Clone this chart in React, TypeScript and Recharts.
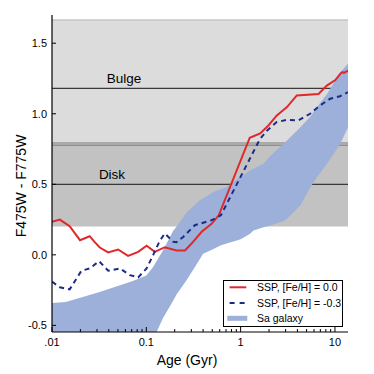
import {
  ComposedChart,
  Line,
  Area,
  XAxis,
  YAxis,
  ReferenceArea,
  ReferenceLine,
  Legend,
} from 'recharts';

const FONT = '"Liberation Sans", Arial, sans-serif';
const RED = '#e0282b';
const NAVY = '#1d2b88';
const BAND = '#9cb0da';

const NAME_SOLAR = 'SSP, [Fe/H] = 0.0';
const NAME_POOR = 'SSP, [Fe/H] = -0.3';
const NAME_SA = 'Sa galaxy';

// SSP [Fe/H] = 0.0
const solarAge = [0.01, 0.0121, 0.0154, 0.0198, 0.0251, 0.0284, 0.0321, 0.0394, 0.0502, 0.064, 0.082, 0.1007, 0.123, 0.157, 0.209, 0.257, 0.302, 0.386, 0.492, 0.586, 1.25, 1.61, 1.97, 2.42, 3.1, 3.94, 6.7, 8.2, 10.1, 11.4, 12.0, 12.5, 13.75];
const solarColor = [0.234, 0.25, 0.203, 0.104, 0.132, 0.09, 0.052, 0.017, 0.038, -0.007, 0.021, 0.064, 0.021, 0.054, 0.031, 0.031, 0.08, 0.163, 0.22, 0.28, 0.83, 0.86, 0.917, 0.988, 1.047, 1.13, 1.14, 1.2, 1.239, 1.283, 1.295, 1.29, 1.305];

// SSP [Fe/H] = -0.3
const poorAge = [0.01, 0.0121, 0.0154, 0.0205, 0.0251, 0.0316, 0.0394, 0.0525, 0.067, 0.082, 0.1007, 0.118, 0.139, 0.157, 0.193, 0.209, 0.246, 0.327, 0.49, 0.617, 1.6, 1.9, 2.4, 3.07, 4.08, 5.45, 6.95, 8.87, 11.3, 13.75];
const poorColor = [-0.19, -0.23, -0.245, -0.113, -0.096, -0.045, -0.113, -0.096, -0.144, -0.16, -0.096, -0.002, 0.1, 0.151, 0.092, 0.09, 0.127, 0.21, 0.245, 0.28, 0.82, 0.88, 0.94, 0.957, 0.953, 1.0, 1.059, 1.106, 1.124, 1.153];

// Sa galaxy envelope
const bandAge = [0.01, 0.014, 0.032, 0.072, 0.1, 0.118, 0.15, 0.193, 0.21, 0.267, 0.37, 0.4, 0.51, 0.61, 0.71, 0.91, 1.0, 1.26, 1.37, 1.75, 2.06, 2.86, 3.1, 4.3, 5.5, 6.45, 8.25, 8.9, 11.4, 13.75];
const bandLow = [-0.75, -0.75, -0.75, -0.72, -0.68, -0.6, -0.45, -0.323, -0.28, -0.181, -0.03, 0.007, 0.04, 0.066, 0.08, 0.102, 0.11, 0.15, 0.172, 0.195, 0.208, 0.24, 0.255, 0.349, 0.48, 0.55, 0.646, 0.68, 0.788, 0.905];
const bandHigh = [-0.342, -0.335, -0.264, -0.186, -0.146, -0.087, 0.031, 0.17, 0.2, 0.3, 0.387, 0.4, 0.446, 0.465, 0.481, 0.535, 0.552, 0.6, 0.61, 0.646, 0.7, 0.788, 0.81, 0.905, 0.98, 1.047, 1.14, 1.177, 1.294, 1.354];

const xTicks = [0.01, 0.02, 0.03, 0.04, 0.05, 0.06, 0.07, 0.08, 0.09, 0.1, 0.2, 0.3, 0.4, 0.5, 0.6, 0.7, 0.8, 0.9, 1, 2, 3, 4, 5, 6, 7, 8, 9, 10];
const xMajor = [0.01, 0.1, 1, 10];
const xMajorLabels = ['.01', '0.1', '1', '10'];
const yTicks = [-0.5, 0, 0.5, 1, 1.5];

const solarData = solarAge.map((age, i) => ({ age, color: solarColor[i] }));
const poorData = poorAge.map((age, i) => ({ age, color: poorColor[i] }));
const bandData = bandAge.map((age, i) => ({ age, band: [bandLow[i], bandHigh[i]] }));

const X_DOMAIN = [0.01, 13.75];
const Y_DOMAIN = [-0.547, 1.7];

function BottomTick({ x, y, payload }: any) {
  const idx = xMajor.indexOf(payload.value);
  return (
    <g>
      <line x1={x} y1={y} x2={x} y2={y - (idx >= 0 ? 5 : 3)} stroke="#000" strokeWidth={1} />
      {idx >= 0 && (
        <text x={x} y={y + 14} textAnchor="middle" fontSize={11} fontFamily={FONT} fill="#000">
          {xMajorLabels[idx]}
        </text>
      )}
    </g>
  );
}

function TopTick({ x, y, payload }: any) {
  const major = xMajor.includes(payload.value);
  return <line x1={x} y1={y} x2={x} y2={y + (major ? 5 : 3)} stroke="#000" strokeWidth={1} />;
}

function LeftTick({ x, y, payload }: any) {
  return (
    <g>
      <line x1={x} y1={y} x2={x + 4} y2={y} stroke="#000" strokeWidth={1} />
      <text x={x - 5} y={y + 4} textAnchor="end" fontSize={11} fontFamily={FONT} fill="#000">
        {payload.value.toFixed(1)}
      </text>
    </g>
  );
}

function RightTick({ x, y }: any) {
  return <line x1={x} y1={y} x2={x - 4} y2={y} stroke="#000" strokeWidth={1} />;
}

function BandLabel({ viewBox, text, dx }: any) {
  return (
    <text x={viewBox.x + dx} y={viewBox.y - 5} textAnchor="middle" fontSize={13.5} fontFamily={FONT} fill="#000">
      {text}
    </text>
  );
}

function XTitle({ viewBox }: any) {
  return (
    <text x={viewBox.x + viewBox.width / 2 - 13} y={viewBox.y + 33} textAnchor="middle" fontSize={14} fontFamily={FONT} fill="#000">
      Age (Gyr)
    </text>
  );
}

function YTitle({ viewBox }: any) {
  const cx = viewBox.x + 21;
  const cy = viewBox.y + viewBox.height / 2 + 12.5;
  return (
    <text x={cx} y={cy} dy="0.35em" textAnchor="middle" fontSize={14} fontFamily={FONT} fill="#000" transform={`rotate(-90, ${cx}, ${cy})`}>
      F475W - F775W
    </text>
  );
}

function LegendBox() {
  const rowY = [7.3, 23, 38.3];
  const names = [NAME_SOLAR, NAME_POOR, NAME_SA];
  return (
    <div
      style={{
        position: 'relative',
        width: 120,
        height: 47,
        boxSizing: 'border-box',
        border: '1px solid #000',
        background: '#fff',
        fontFamily: FONT,
        fontSize: 10.5,
        color: '#000',
      }}
    >
      <svg width={120} height={47} style={{ position: 'absolute', left: -1, top: -1 }}>
        <line x1={6.6} x2={23.3} y1={rowY[0]} y2={rowY[0]} stroke={RED} strokeWidth={2} />
        <line x1={6.6} x2={21.6} y1={rowY[1]} y2={rowY[1]} stroke={NAVY} strokeWidth={2} strokeDasharray="5 5" />
        <rect x={4.3} y={rowY[2] - 2.5} width={20} height={5} fill={BAND} />
      </svg>
      {names.map((t, i) => (
        <div
          key={t}
          style={{ position: 'absolute', left: 33, top: rowY[i] - 8, lineHeight: '14px', whiteSpace: 'nowrap' }}
        >
          {t}
        </div>
      ))}
    </div>
  );
}

export default function App() {
  return (
    <div style={{ position: 'absolute', left: 0, top: 0, background: '#fff' }}>
      <ComposedChart width={374} height={374} margin={{ top: 15, right: 26, bottom: 0, left: 0 }}>
        <XAxis
          xAxisId={0}
          dataKey="age"
          type="number"
          scale="log"
          domain={X_DOMAIN}
          allowDataOverflow
          ticks={xTicks}
          interval={0}
          tickSize={0}
          tickMargin={0}
          tickLine={false}
          tick={<BottomTick />}
          axisLine={{ stroke: '#000', strokeWidth: 1.2 }}
          height={42}
          label={<XTitle />}
        />
        <XAxis
          xAxisId="top"
          orientation="top"
          dataKey="age"
          type="number"
          scale="log"
          domain={X_DOMAIN}
          allowDataOverflow
          ticks={xTicks}
          interval={0}
          tickSize={0}
          tickMargin={0}
          tickLine={false}
          tick={<TopTick />}
          axisLine={{ stroke: '#000', strokeWidth: 1.2 }}
          height={0}
        />
        <YAxis
          yAxisId={0}
          type="number"
          domain={Y_DOMAIN}
          allowDataOverflow
          ticks={yTicks}
          interval={0}
          tickSize={0}
          tickMargin={0}
          tickLine={false}
          tick={<LeftTick />}
          axisLine={{ stroke: '#000', strokeWidth: 1.2 }}
          width={52}
          label={<YTitle />}
        />
        <YAxis
          yAxisId="right"
          orientation="right"
          type="number"
          domain={Y_DOMAIN}
          allowDataOverflow
          ticks={yTicks}
          interval={0}
          tickSize={0}
          tickMargin={0}
          tickLine={false}
          tick={<RightTick />}
          axisLine={{ stroke: '#000', strokeWidth: 1.2 }}
          width={0}
        />

        <ReferenceArea y1={0.8} y2={1.665} fill="#dcdcdc" fillOpacity={1} stroke="none" zIndex={10} />
        <ReferenceArea y1={0.2} y2={0.775} fill="#c2c2c2" fillOpacity={1} stroke="none" zIndex={10} />
        <ReferenceArea y1={0.775} y2={0.8} fill="#aaaaaa" fillOpacity={1} stroke="none" zIndex={10} />
        <ReferenceLine y={1.665} stroke="#b4b4b4" strokeWidth={1} zIndex={20} />
        <ReferenceLine y={0.775} stroke="#8e8e8e" strokeWidth={1} zIndex={20} />
        <ReferenceLine y={1.18} stroke="#3a3a3a" strokeWidth={1.3} zIndex={20} label={<BandLabel text="Bulge" dx={72} />} />
        <ReferenceLine y={0.5} stroke="#3a3a3a" strokeWidth={1.3} zIndex={20} label={<BandLabel text="Disk" dx={60} />} />

        <Area
          data={bandData}
          dataKey="band"
          name={NAME_SA}
          type="linear"
          stroke="none"
          fill={BAND}
          fillOpacity={1}
          isAnimationActive={false}
          zIndex={100}
        />
        <Line
          data={solarData}
          dataKey="color"
          name={NAME_SOLAR}
          type="linear"
          stroke={RED}
          strokeWidth={2}
          dot={false}
          isAnimationActive={false}
          zIndex={400}
        />
        <Line
          data={poorData}
          dataKey="color"
          name={NAME_POOR}
          type="linear"
          stroke={NAVY}
          strokeWidth={2}
          strokeDasharray="5 4"
          dot={false}
          isAnimationActive={false}
          zIndex={400}
        />
        <Legend
          layout="vertical"
          align="center"
          verticalAlign="middle"
          wrapperStyle={{ left: 223, top: 280, width: 120, height: 47 }}
          content={() => <LegendBox />}
        />
      </ComposedChart>
    </div>
  );
}
